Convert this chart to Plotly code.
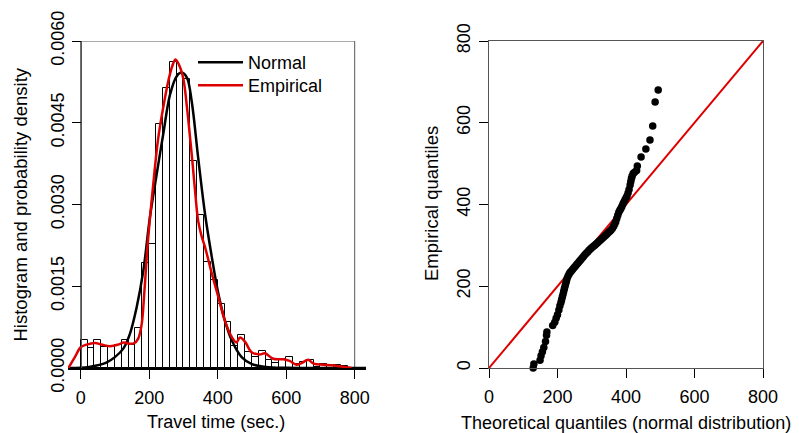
import plotly.graph_objects as go

# histogram of travel times (bin left edges, width 20 s) -> density
bin_left = list(range(0, 780, 20))
hist_density = [0.00052, 0.00037, 0.00052, 0.00038, 0.00041, 0.00043, 0.00052, 0.00043,
                0.00074, 0.00192, 0.00228, 0.00447, 0.00513, 0.00562, 0.00539, 0.00530,
                0.00379, 0.00280, 0.00195, 0.00162, 0.00118, 0.00085, 0.00041, 0.00061,
                0.00029, 0.00021, 0.00032, 0.00015, 0.00009, 0.00016, 0.00021, 0.00008,
                0.00011, 0.00015, 0.00002, 0.00008, 0.00006, 0.00005, 0.00004]

# fitted normal density
normal_x = [-37, 0, 25, 50, 75, 100, 125, 144, 163, 183, 202, 222, 241, 261, 280, 295,
            310, 324, 343, 363, 383, 402, 421, 441, 470, 500, 540, 600, 700, 833]
normal_y = [0, 0.000005, 0.00002, 0.00005, 0.0001, 0.0002, 0.00036, 0.00063, 0.0011,
            0.00179, 0.00276, 0.00356, 0.00429, 0.00502, 0.00535, 0.00542, 0.00533,
            0.0049, 0.00386, 0.00283, 0.00203, 0.00136, 0.00087, 0.00051, 0.0002,
            0.00007, 0.00002, 0.000003, 0, 0]

# empirical (kernel) density, red curve
emp_x = [-36, -17, 0, 17, 42, 61, 85, 110, 125, 140, 155, 168, 178, 186, 196, 212, 226,
         241, 256, 268, 277, 288, 300, 310, 319, 326, 334, 343, 353, 363, 383, 402, 421,
         441, 455, 465, 480, 499, 523, 538, 562, 592, 610, 630, 645, 664, 680, 708, 735,
         757, 781, 791]
emp_y = [0, 0.0002, 0.00038, 0.00043, 0.00046, 0.00043, 0.0004, 0.00043, 0.00047,
         0.00045, 0.00045, 0.00054, 0.0008, 0.0014, 0.0023, 0.00338, 0.0042, 0.00478,
         0.00527, 0.00555, 0.00566, 0.00555, 0.0053, 0.0048, 0.00425, 0.0038, 0.00325,
         0.0027, 0.00242, 0.00222, 0.00173, 0.0013, 0.00087, 0.00057, 0.00047, 0.00056,
         0.00048, 0.00029, 0.00025, 0.00027, 0.00017, 0.00016, 0.00013, 0.00006, 0.00009,
         0.00015, 0.00008, 0.00006, 0.00005, 0.00003, 0.00001, 0]

# QQ plot: theoretical (normal) vs empirical quantiles
theo_q = [129, 131, 149, 152, 156, 160, 165, 168, 169, 186, 192, 196, 200, 204, 207, 210,
          212, 214, 216, 218, 220, 222, 224, 226, 228, 231, 234, 237, 240, 244, 248, 252,
          256, 260, 264, 268, 272, 276, 280, 284, 288, 292, 296, 300, 304, 308, 312, 316,
          320, 324, 328, 332, 336, 340, 344, 348, 352, 356, 360, 364, 367, 370, 373, 376,
          379, 382, 385, 388, 391, 394, 397, 400, 403, 406, 409, 412, 414, 416, 418, 421,
          425, 431, 433, 444, 458, 470, 478, 485, 494]
emp_q = [0, 10, 19, 30, 40, 50, 65, 80, 88, 104, 112, 122, 130, 142, 152, 160,
         167, 174, 180, 187, 194, 200, 207, 213, 219, 225, 230, 234, 237, 241, 245, 249,
         253, 257, 261, 265, 269, 273, 277, 281, 284, 288, 291, 294, 297, 300, 303, 306,
         309, 312, 315, 318, 321, 324, 327, 331, 334, 337, 341, 347, 352, 358, 366, 374,
         381, 386, 390, 395, 401, 406, 411, 416, 421, 428, 437, 448, 456, 464, 470, 476,
         479, 483, 494, 516, 536, 558, 592, 651, 680]
identity = [0, 800]

x_ticks = [0, 200, 400, 600, 800]
dens_ticks = [0.0, 0.0015, 0.003, 0.0045, 0.006]

RED = "#DD0000"
FONT = "Liberation Sans, Arial, sans-serif"
# page body adds an 8px margin, so the figure is 8px smaller on each side
W, H = 791, 425


def px(x):
    return x / W


def py(y):
    return (H - y) / H


fig = go.Figure()
fig.add_trace(go.Bar(x=[b + 10 for b in bin_left], y=hist_density, width=20,
                     marker=dict(color="white", line=dict(color="black", width=1)),
                     showlegend=False, xaxis="x", yaxis="y"))
fig.add_trace(go.Scatter(x=normal_x, y=normal_y, mode="lines", name="Normal",
                         line=dict(color="black", width=2.5, shape="spline"),
                         xaxis="x", yaxis="y", legend="legend"))
fig.add_trace(go.Scatter(x=emp_x, y=emp_y, mode="lines", name="Empirical",
                         line=dict(color=RED, width=2.5, shape="spline"),
                         xaxis="x", yaxis="y", legend="legend2"))
fig.add_trace(go.Scatter(x=identity, y=identity, mode="lines", showlegend=False,
                         line=dict(color=RED, width=2), xaxis="x2", yaxis="y2"))
fig.add_trace(go.Scatter(x=theo_q, y=emp_q, mode="markers", showlegend=False,
                         marker=dict(color="black", size=7.5), cliponaxis=False,
                         xaxis="x2", yaxis="y2"))

ydom = [py(360), py(33)]
x1dom = [px(60), px(358)]
x2dom = [px(481), px(755)]
axis_common = dict(showgrid=False, zeroline=False, ticks="outside", ticklen=9,
                   tickwidth=1, tickcolor="black", automargin=False,
                   tickfont=dict(size=18, color="black"))
leg_common = dict(xanchor="left", yanchor="top", bgcolor="rgba(0,0,0,0)",
                  font=dict(size=18), itemwidth=45)

fig.update_layout(
    width=W, height=H, margin=dict(l=0, r=0, t=0, b=0, autoexpand=False),
    paper_bgcolor="white", plot_bgcolor="white",
    font=dict(family=FONT, size=18, color="black"),
    bargap=0,
    xaxis=dict(domain=x1dom, range=[-37, 833], tickvals=x_ticks, anchor="y",
               ticklabelstandoff=3,
               showline=True, linecolor="black", linewidth=2, **axis_common),
    yaxis=dict(domain=ydom, range=[0, 0.006], tickvals=dens_ticks, tickformat=".4f",
               tickangle=-90, anchor="free", ticklabelstandoff=0,
               position=x1dom[0] + (x1dom[1] - x1dom[0]) * 37 / 870,
               showline=True, linecolor="#555", linewidth=1, **axis_common),
    xaxis2=dict(domain=x2dom, range=[0, 800], tickvals=x_ticks, anchor="y2",
                ticklabelstandoff=3,
                showline=True, mirror=True, linecolor="#555", linewidth=1, **axis_common),
    yaxis2=dict(domain=ydom, range=[0, 800], tickvals=x_ticks, tickangle=-90, anchor="x2",
                ticklabelstandoff=2,
                showline=True, mirror=True, linecolor="#555", linewidth=1, **axis_common),
    legend=dict(x=px(185), y=py(36), **leg_common),
    legend2=dict(x=px(185), y=py(59), **leg_common),
    shapes=[dict(type="rect", xref="x", yref="y", x0=0, x1=800, y0=0, y1=0.006,
                 line=dict(color="#555", width=1), layer="below")],
    annotations=[
        dict(text="Histogram and probability density", x=px(12), y=py(196.5),
             textangle=-90, font=dict(size=18.5)),
        dict(text="Travel time (sec.)", x=px(208), y=py(414)),
        dict(text="Empirical quantiles", x=px(423), y=py(196),
             textangle=-90, font=dict(size=18.5)),
        dict(text="Theoretical quantiles (normal distribution)", x=px(618), y=py(415)),
    ],
)
fig.update_annotations(xref="paper", yref="paper", showarrow=False,
                       xanchor="center", yanchor="middle")

fig.write_html("out.html")
